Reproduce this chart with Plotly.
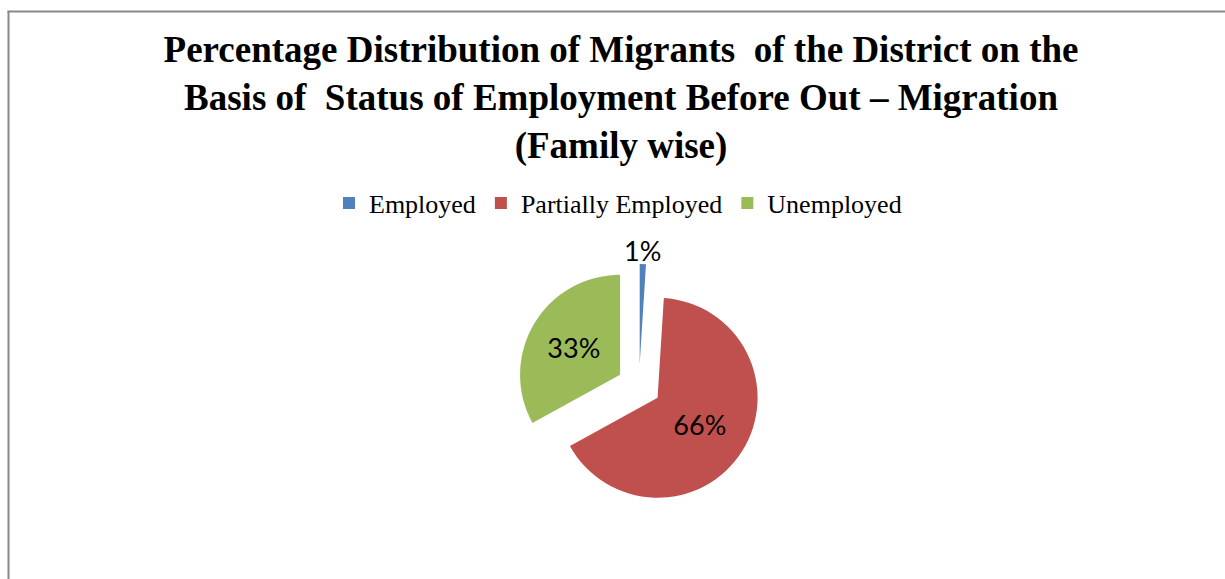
import plotly.graph_objects as go

# Family-wise status of employment before out-migration (percent)
categories = ["Employed", "Partially Employed", "Unemployed"]
shares = [1, 66, 33]
colors = ["#4F81BD", "#C0504D", "#9BBB59"]

W, H = 1225, 579

# pie box in pixels (centre and half-size), converted to paper fractions
cx, cy, half = 639, 386, 122
dom_x = [(cx - half) / W, (cx + half) / W]
dom_y = [(H - cy - half) / H, (H - cy + half) / H]

label_font = dict(family="Lato", size=27, color="black")

fig = go.Figure(
    go.Pie(
        labels=categories,
        values=shares,
        sort=False,
        direction="clockwise",
        rotation=0,
        pull=[0.22, 0.22, 0.22],
        marker=dict(colors=colors, line=dict(width=0)),
        textinfo="percent",
        # the thin slice gets its label as a centred annotation above it
        textposition=["none", "inside", "inside"],
        insidetextorientation="horizontal",
        insidetextfont=label_font,
        domain=dict(x=dom_x, y=dom_y),
        hoverinfo="label+percent",
    )
)

# label for the thin "Employed" slice, centred above the slice tip
fig.add_annotation(
    text=f"{shares[0]}%",
    xref="paper", yref="paper",
    x=642 / W, y=(H - 250) / H,
    xanchor="center", yanchor="middle",
    showarrow=False,
    font=label_font,
)

title_text = (
    "Percentage Distribution of Migrants\u00a0 of the District on the<br>"
    "Basis of\u00a0 Status of Employment Before Out \u2013 Migration<br>"
    "(Family wise)"
)

fig.update_layout(
    width=W,
    height=H,
    margin=dict(l=0, r=0, t=0, b=0),
    paper_bgcolor="white",
    plot_bgcolor="white",
    title=dict(
        text=title_text,
        x=621 / W,
        xanchor="center",
        xref="paper",
        y=1 - 62 / H,
        yanchor="top",
        yref="container",
        font=dict(family="Liberation Serif", size=37, color="black", weight="bold"),
    ),
    showlegend=True,
    legend=dict(
        orientation="h",
        x=618 / W,
        xanchor="center",
        y=(H - 203) / H,
        yanchor="middle",
        font=dict(family="Liberation Serif", size=26, color="black"),
        itemwidth=30,
        traceorder="normal",
    ),
    shapes=[
        dict(type="line", xref="paper", yref="paper",
             x0=8.5 / W, x1=8.5 / W, y0=0, y1=(H - 11) / H,
             line=dict(color="#888888", width=2)),
        dict(type="line", xref="paper", yref="paper",
             x0=7.5 / W, x1=1, y0=(H - 11.5) / H, y1=(H - 11.5) / H,
             line=dict(color="#888888", width=2)),
    ],
)

fig.write_html("out.html")
